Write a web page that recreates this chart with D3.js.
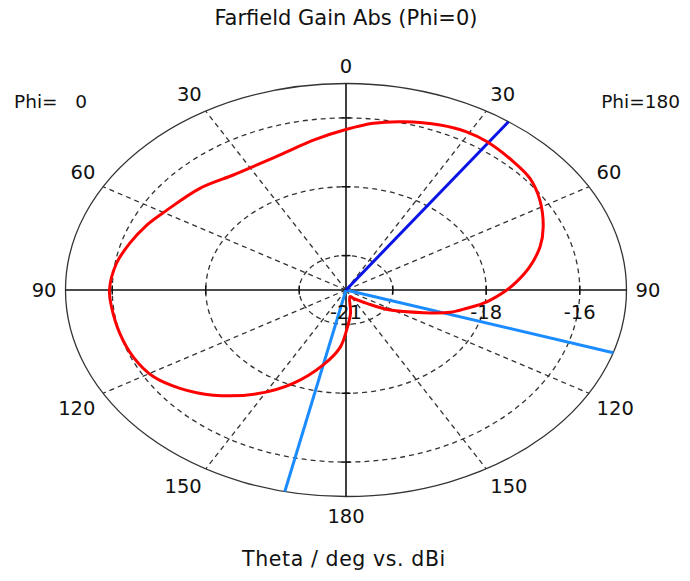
<!DOCTYPE html>
<html><head><meta charset="utf-8">
<script src="https://cdn.jsdelivr.net/npm/d3@7"></script>
<style>
body{margin:0;background:#fff}
text{font-family:"DejaVu Sans",Verdana,sans-serif;fill:#111;font-size:19.5px}
</style>
</head><body><svg id="c" width="690" height="581"></svg>
<script>
// Plot angle (deg, clockwise from top; right half = Phi 180, left half = Phi 0)
const plotAngle = [0.2, 6.9, 14.1, 22.8, 29.3, 34.9, 43.8, 50.5, 57.8, 66.5, 73.1, 80.2, 86.2, 90, 96.5, 101.6, 106.2, 111.7, 121.7, 131.1, 147.1, 156.2, 171.8, 179.3, 184.4, 192.6, 202.6, 212.3, 222.9, 231.2, 238.6, 246.9, 255.4, 264.5, 270, 279, 286.4, 293.9, 301.2, 313.4, 324.2, 331, 341.4, 350.9];
const gainDbi = [-16.33, -16.12, -15.96, -15.80, -15.73, -15.74, -15.83, -15.90, -16.10, -16.40, -16.66, -17.01, -17.34, -17.56, -17.97, -18.36, -18.68, -19.22, -19.89, -20.41, -20.71, -20.79, -20.32, -19.84, -19.32, -18.77, -18.06, -17.43, -16.83, -16.44, -16.17, -16.05, -16.00, -15.96, -15.94, -16.03, -16.18, -16.34, -16.52, -16.70, -16.88, -16.90, -16.81, -16.59];
const thetaTickAngles = [0, 30, 60, 90, 120, 150, 180, 210, 240, 270, 300, 330];
const thetaTickLabels = ["0", "30", "60", "90", "120", "150", "180", "150", "120", "90", "60", "30"];
const gainDomain = [-21, -15];
const ringValues = [-20, -18, -16];
const ringLabelValues = [-21, -18, -16];
const ringLabels = ["-21", "-18", "-16"];
const mainLobeAngle = [35.4];
const beamWidthAngles = [107.7, 192.6];
const titleText = "Farfield Gain Abs (Phi=0)";
const xTitleText = "Theta / deg vs. dBi";
const leftPhiText = "Phi=   0";
const rightPhiText = "Phi=180";

const svg = d3.select("#c");
const cx = 346, cy = 290, rx = 280.5, ry = 206.5;
const r = d3.scaleLinear().domain(gainDomain).range([0, 1]);
const ang = d3.scaleLinear().domain([0, 360]).range([0, 2 * Math.PI]);
const pt = (a, f) => [cx + f * rx * Math.sin(ang(a)), cy - f * ry * Math.cos(ang(a))];

const g = svg.append("g");
// dashed rings
g.selectAll("ellipse.ring").data(ringValues).join("ellipse")
  .attr("cx", cx).attr("cy", cy)
  .attr("rx", d => r(d) * rx).attr("ry", d => r(d) * ry)
  .attr("fill", "none").attr("stroke", "#333").attr("stroke-width", 1.3)
  .attr("stroke-dasharray", "5,4");
// dashed spokes
g.selectAll("line.spoke").data(thetaTickAngles.filter(a => a % 90 !== 0)).join("line")
  .attr("x1", cx).attr("y1", cy)
  .attr("x2", d => pt(d, 1)[0]).attr("y2", d => pt(d, 1)[1])
  .attr("stroke", "#333").attr("stroke-width", 1.3).attr("stroke-dasharray", "5,4");
// outer ellipse
g.append("ellipse").attr("cx", cx).attr("cy", cy).attr("rx", rx).attr("ry", ry)
  .attr("fill", "none").attr("stroke", "#333").attr("stroke-width", 1.3);
// solid axes
g.selectAll("line.axis").data([0, 90]).join("line")
  .attr("x1", d => pt(d, 1)[0]).attr("y1", d => pt(d, 1)[1])
  .attr("x2", d => pt(d + 180, 1)[0]).attr("y2", d => pt(d + 180, 1)[1])
  .attr("stroke", "#111").attr("stroke-width", 1.6);
// axis ticks
const tickData = [];
ringValues.forEach(v => [0, 90, 180, 270].forEach(a => tickData.push({v, a})));
g.selectAll("line.tick").data(tickData).join("line")
  .each(function(d) {
    const [x, y] = pt(d.a, r(d.v));
    const vert = d.a % 180 === 90;
    d3.select(this).attr("x1", vert ? x : x - 4.5).attr("x2", vert ? x : x + 4.5)
      .attr("y1", vert ? y - 4.5 : y).attr("y2", vert ? y + 4.5 : y);
  })
  .attr("stroke", "#111").attr("stroke-width", 1.5);

// beam lines
g.selectAll("line.beam").data(beamWidthAngles).join("line")
  .attr("x1", cx).attr("y1", cy)
  .attr("x2", d => pt(d, 1)[0]).attr("y2", d => pt(d, 1)[1])
  .attr("stroke", "#1a8cff").attr("stroke-width", 3);
g.selectAll("line.lobe").data(mainLobeAngle).join("line")
  .attr("x1", cx).attr("y1", cy)
  .attr("x2", d => pt(d, 1)[0]).attr("y2", d => pt(d, 1)[1])
  .attr("stroke", "#0a14e6").attr("stroke-width", 3);

// red curve
const pts = plotAngle.map((a, i) => pt(a, r(gainDbi[i])));
g.append("path").attr("d", d3.line().curve(d3.curveCatmullRomClosed.alpha(0.5))(pts))
  .attr("fill", "none").attr("stroke", "#ff0000").attr("stroke-width", 3);

// theta labels
thetaTickAngles.forEach((a, i) => {
  const [x, y] = pt(a, 1);
  const s = Math.sin(ang(a)), c = Math.cos(ang(a));
  let tx = x, ty, anchor = "middle";
  if (a === 0) { ty = y - 11; }
  else if (a === 180) { ty = y + 26; }
  else {
    anchor = s > 0 ? "start" : "end";
    const gap = 10 * Math.abs(s) - 1;
    tx = x + (s > 0 ? gap : -gap);
    if (Math.abs(c) < 1e-6) ty = y + 7;
    else if (c > 0) ty = y - 5 - 6 * c;
    else ty = y + 5 + 6 * Math.abs(c) + 14;
  }
  svg.append("text").attr("x", tx).attr("y", ty).attr("text-anchor", anchor).text(thetaTickLabels[i]);
});
// ring labels
ringLabelValues.forEach((v, i) => {
  const [x] = pt(90, r(v));
  svg.append("text").attr("x", x).attr("y", cy + 29).attr("text-anchor", "middle").text(ringLabels[i]);
});
svg.append("text").attr("x", cx).attr("y", 25).attr("text-anchor", "middle").style("font-size", "21px").text(titleText);
svg.append("text").attr("x", cx - 2).attr("y", 566).attr("text-anchor", "middle").style("font-size", "20.5px").style("letter-spacing", "0.6px").text(xTitleText);
svg.append("text").attr("x", 14).attr("y", 108).style("font-size", "18.5px").style("white-space", "pre").text(leftPhiText);
svg.append("text").attr("x", 680).attr("y", 108).attr("text-anchor", "end").style("font-size", "18.5px").text(rightPhiText);
</script>
</body></html>
